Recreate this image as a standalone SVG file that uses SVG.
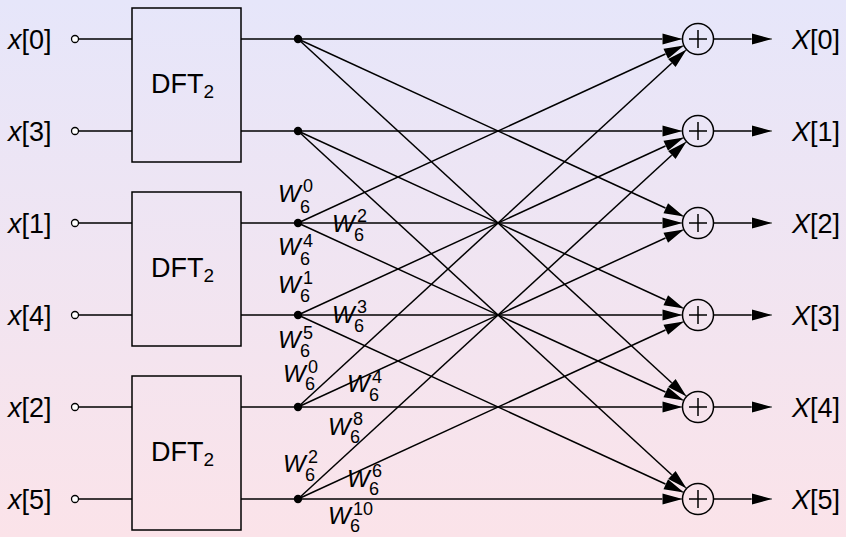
<svg xmlns="http://www.w3.org/2000/svg" width="846" height="537" viewBox="0 0 846 537">
<defs>
<linearGradient id="bg" x1="0" y1="0" x2="0" y2="1">
<stop offset="0" stop-color="#e6e6fa"/>
<stop offset="1" stop-color="#fbe3e9"/>
</linearGradient>
<marker id="ah" markerUnits="userSpaceOnUse" markerWidth="24" markerHeight="14" refX="20" refY="5.5" orient="auto" overflow="visible">
<path d="M0,0 L20,5.5 L0,11 z" fill="#000" stroke="#fff" stroke-width="0.6" paint-order="stroke"/>
</marker>
<style>
.ln{stroke:#000;stroke-width:1.5;fill:none}
.ar{stroke:#000;stroke-width:1.5;fill:none;marker-end:url(#ah)}
.box{fill:none;stroke:#000;stroke-width:1.5}
.in{fill:#fff;stroke:#000;stroke-width:1.3}
.dot{fill:#000}
.add{fill:none;stroke:#000;stroke-width:1.5}
.t{font-family:"Liberation Sans",Arial,sans-serif;font-size:27px;fill:#000}
.w{font-family:"Liberation Sans",Arial,sans-serif;font-size:24px;font-style:italic;fill:#000}
.s{font-family:"Liberation Sans",Arial,sans-serif;font-size:18px;fill:#000}
</style>
</defs>
<rect x="0" y="0" width="846" height="537" fill="url(#bg)"/>

<g id="connectors">
<path class="ln" d="M78.5,39H132M78.5,131H132M78.5,223H132M78.5,315H132M78.5,407H132M78.5,499H132"/>
<line class="ar" x1="241" y1="39" x2="682.5" y2="39"/>
<line class="ar" x1="241" y1="131" x2="682.5" y2="131"/>
<line class="ar" x1="241" y1="223" x2="682.5" y2="223"/>
<line class="ar" x1="241" y1="315" x2="682.5" y2="315"/>
<line class="ar" x1="241" y1="407" x2="682.5" y2="407"/>
<line class="ar" x1="241" y1="499" x2="682.5" y2="499"/>
<line class="ar" x1="298" y1="39" x2="683.92" y2="216.52"/>
<line class="ar" x1="298" y1="39" x2="686.59" y2="396.51"/>
<line class="ar" x1="298" y1="131" x2="683.92" y2="308.52"/>
<line class="ar" x1="298" y1="131" x2="686.59" y2="488.51"/>
<line class="ar" x1="298" y1="223" x2="683.92" y2="45.48"/>
<line class="ar" x1="298" y1="223" x2="683.92" y2="400.52"/>
<line class="ar" x1="298" y1="315" x2="683.92" y2="137.48"/>
<line class="ar" x1="298" y1="315" x2="683.92" y2="492.52"/>
<line class="ar" x1="298" y1="407" x2="686.59" y2="49.49"/>
<line class="ar" x1="298" y1="407" x2="683.92" y2="229.48"/>
<line class="ar" x1="298" y1="499" x2="686.59" y2="141.49"/>
<line class="ar" x1="298" y1="499" x2="683.92" y2="321.48"/>
<line class="ar" x1="713.5" y1="39" x2="772" y2="39"/>
<line class="ar" x1="713.5" y1="131" x2="772" y2="131"/>
<line class="ar" x1="713.5" y1="223" x2="772" y2="223"/>
<line class="ar" x1="713.5" y1="315" x2="772" y2="315"/>
<line class="ar" x1="713.5" y1="407" x2="772" y2="407"/>
<line class="ar" x1="713.5" y1="499" x2="772" y2="499"/>
</g>

<g id="inputs">
<g id="in0"><circle class="in" cx="75" cy="39" r="3.5"/><text class="t" x="8" y="49"><tspan font-style="italic">x</tspan>[0]</text></g>
<g id="in3"><circle class="in" cx="75" cy="131" r="3.5"/><text class="t" x="8" y="141"><tspan font-style="italic">x</tspan>[3]</text></g>
<g id="in1"><circle class="in" cx="75" cy="223" r="3.5"/><text class="t" x="8" y="233"><tspan font-style="italic">x</tspan>[1]</text></g>
<g id="in4"><circle class="in" cx="75" cy="315" r="3.5"/><text class="t" x="8" y="325"><tspan font-style="italic">x</tspan>[4]</text></g>
<g id="in2"><circle class="in" cx="75" cy="407" r="3.5"/><text class="t" x="8" y="417"><tspan font-style="italic">x</tspan>[2]</text></g>
<g id="in5"><circle class="in" cx="75" cy="499" r="3.5"/><text class="t" x="8" y="509"><tspan font-style="italic">x</tspan>[5]</text></g>
</g>

<g id="dft0"><rect class="box" x="132" y="8" width="109" height="154"/><text class="t" x="151" y="93">DFT<tspan font-size="19" dy="5">2</tspan></text></g>
<g id="dft1"><rect class="box" x="132" y="192" width="109" height="154"/><text class="t" x="151" y="277">DFT<tspan font-size="19" dy="5">2</tspan></text></g>
<g id="dft2"><rect class="box" x="132" y="376" width="109" height="154"/><text class="t" x="151" y="461">DFT<tspan font-size="19" dy="5">2</tspan></text></g>

<g id="dots">
<circle class="dot" cx="298" cy="39" r="4.2"/>
<circle class="dot" cx="298" cy="131" r="4.2"/>
<circle class="dot" cx="298" cy="223" r="4.2"/>
<circle class="dot" cx="298" cy="315" r="4.2"/>
<circle class="dot" cx="298" cy="407" r="4.2"/>
<circle class="dot" cx="298" cy="499" r="4.2"/>
</g>

<g id="twiddles">
<g><text class="w" x="278" y="202">W</text><text class="s" x="303" y="192">0</text><text class="s" x="300" y="213">6</text></g>
<g><text class="w" x="332" y="232">W</text><text class="s" x="357" y="222">2</text><text class="s" x="354" y="241">6</text></g>
<g><text class="w" x="278" y="255">W</text><text class="s" x="303" y="247">4</text><text class="s" x="300" y="265">6</text></g>
<g><text class="w" x="278" y="293">W</text><text class="s" x="303" y="284">1</text><text class="s" x="300" y="302">6</text></g>
<g><text class="w" x="332" y="323">W</text><text class="s" x="357" y="313">3</text><text class="s" x="354" y="332">6</text></g>
<g><text class="w" x="278" y="348">W</text><text class="s" x="303" y="339">5</text><text class="s" x="300" y="357">6</text></g>
<g><text class="w" x="283" y="382">W</text><text class="s" x="308" y="373">0</text><text class="s" x="305" y="390">6</text></g>
<g><text class="w" x="347" y="392">W</text><text class="s" x="372" y="383">4</text><text class="s" x="369" y="401">6</text></g>
<g><text class="w" x="328" y="435">W</text><text class="s" x="353" y="425">8</text><text class="s" x="350" y="443">6</text></g>
<g><text class="w" x="283" y="472">W</text><text class="s" x="308" y="463">2</text><text class="s" x="305" y="481">6</text></g>
<g><text class="w" x="347" y="487">W</text><text class="s" x="372" y="477">6</text><text class="s" x="369" y="495">6</text></g>
<g><text class="w" x="328" y="524">W</text><text class="s" x="353" y="515">10</text><text class="s" x="350" y="532">6</text></g>
</g>

<g id="adders">
<g id="add0"><circle class="add" cx="698" cy="39" r="15.5"/><path class="ln" stroke-width="1" d="M689,39H707M698,30V48"/></g>
<g id="add1"><circle class="add" cx="698" cy="131" r="15.5"/><path class="ln" stroke-width="1" d="M689,131H707M698,122V140"/></g>
<g id="add2"><circle class="add" cx="698" cy="223" r="15.5"/><path class="ln" stroke-width="1" d="M689,223H707M698,214V232"/></g>
<g id="add3"><circle class="add" cx="698" cy="315" r="15.5"/><path class="ln" stroke-width="1" d="M689,315H707M698,306V324"/></g>
<g id="add4"><circle class="add" cx="698" cy="407" r="15.5"/><path class="ln" stroke-width="1" d="M689,407H707M698,398V416"/></g>
<g id="add5"><circle class="add" cx="698" cy="499" r="15.5"/><path class="ln" stroke-width="1" d="M689,499H707M698,490V508"/></g>
</g>

<g id="outputs">
<g id="out0"><text class="t" x="792" y="49"><tspan font-style="italic">X</tspan>[0]</text></g>
<g id="out1"><text class="t" x="792" y="141"><tspan font-style="italic">X</tspan>[1]</text></g>
<g id="out2"><text class="t" x="792" y="233"><tspan font-style="italic">X</tspan>[2]</text></g>
<g id="out3"><text class="t" x="792" y="325"><tspan font-style="italic">X</tspan>[3]</text></g>
<g id="out4"><text class="t" x="792" y="417"><tspan font-style="italic">X</tspan>[4]</text></g>
<g id="out5"><text class="t" x="792" y="509"><tspan font-style="italic">X</tspan>[5]</text></g>
</g>
</svg>
